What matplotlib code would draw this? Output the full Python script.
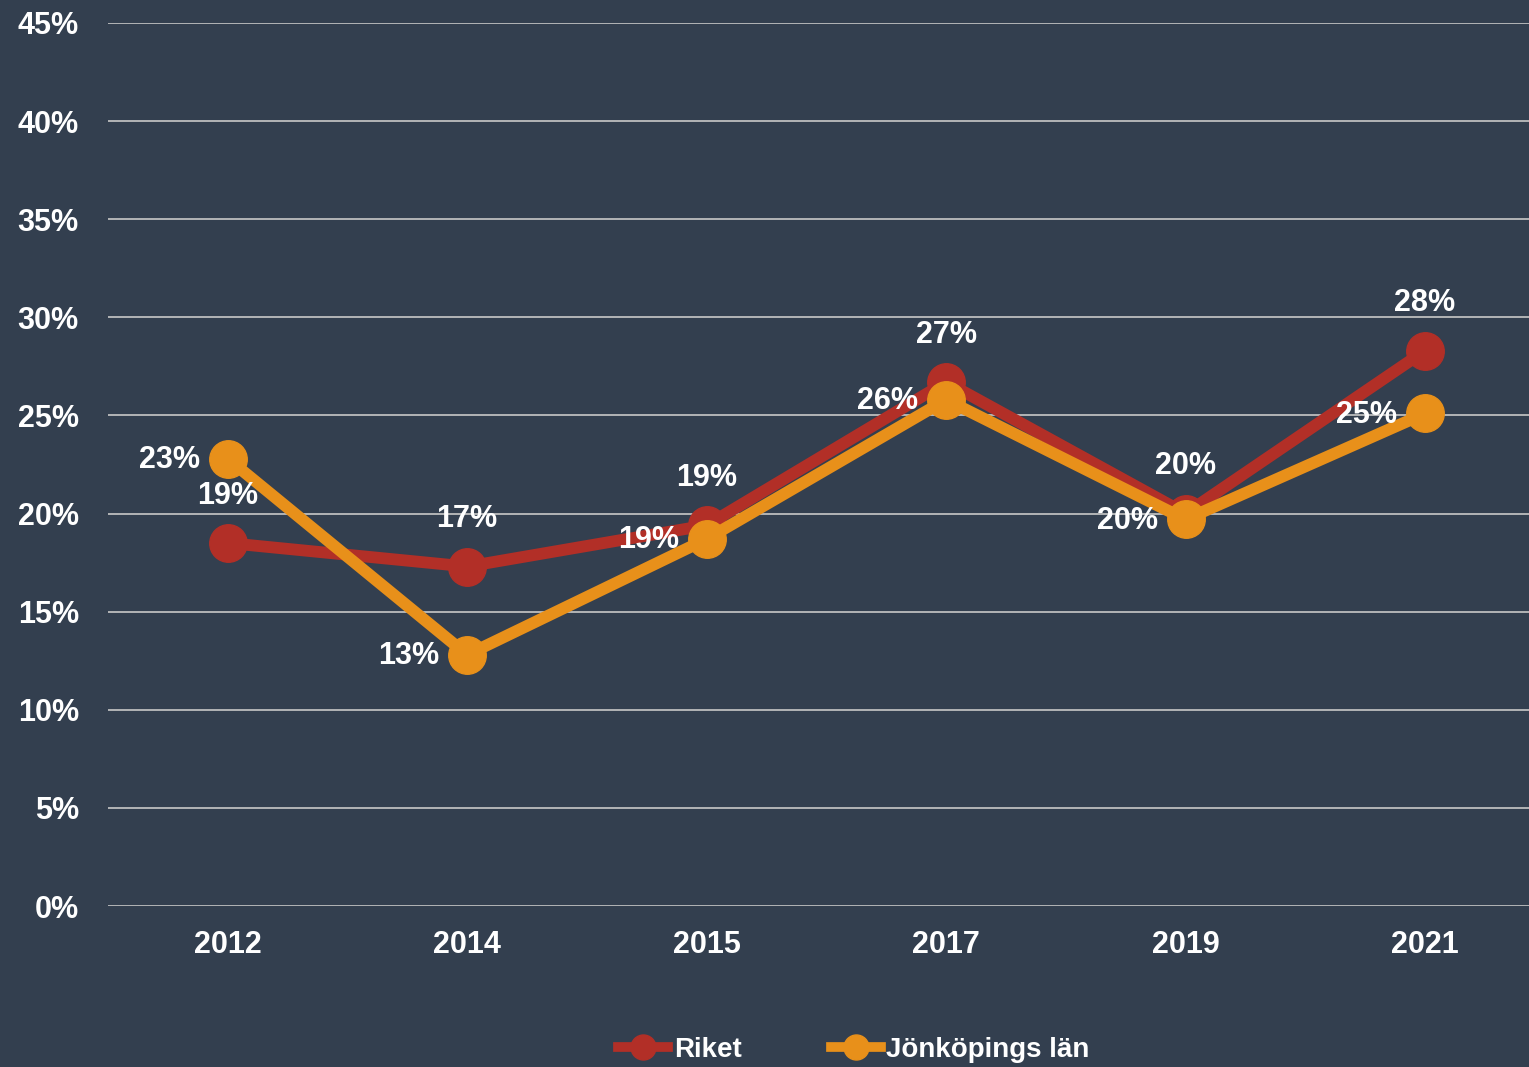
import matplotlib
matplotlib.use("Agg")
import matplotlib.pyplot as plt
from matplotlib.lines import Line2D

years = ["2012", "2014", "2015", "2017", "2019", "2021"]
riket = [18.5, 17.3, 19.4, 26.7, 20.0, 28.3]
jonkoping = [22.8, 12.8, 18.7, 25.8, 19.7, 25.1]
riket_labels = ["19%", "17%", "19%", "27%", "20%", "28%"]
jonk_labels = ["23%", "13%", "19%", "26%", "20%", "25%"]
yticks = [0, 5, 10, 15, 20, 25, 30, 35, 40, 45]

BG = "#333f4f"
RED = "#b22f27"
ORANGE = "#e8901a"
FONT = ["Liberation Sans", "DejaVu Sans"]
plt.rcParams["font.family"] = FONT

fig = plt.figure(figsize=(15.29, 10.67), dpi=100, facecolor=BG)
ax = fig.add_axes([108/1529, 161/1067, 1 - 108/1529, (906-23)/1067])
ax.set_facecolor(BG)

x = list(range(len(years)))
ax.plot(x, riket, color=RED, lw=8.5, marker="o", ms=27, zorder=3, solid_capstyle="round")
ax.plot(x, jonkoping, color=ORANGE, lw=8.5, marker="o", ms=27, zorder=4, solid_capstyle="round")

for xi, v, t in zip(x, riket, riket_labels):
    ax.annotate(t, (xi, v), xytext=(0, 34), textcoords="offset points", ha="center", va="center",
                color="white", fontsize=22, fontweight="bold", zorder=6)
for xi, v, t in zip(x, jonkoping, jonk_labels):
    ax.annotate(t, (xi, v), xytext=(-20, -1), textcoords="offset points", ha="right", va="center",
                color="white", fontsize=22, fontweight="bold", zorder=6)

ax.set_xlim(-0.5, 5 + (1529-1425)/239.5)
ax.set_ylim(0, 45)
ax.set_yticks(yticks)
ax.set_yticklabels([f"{v}%" for v in yticks])
ax.set_xticks(x)
ax.set_xticklabels(years)
ax.tick_params(axis="both", length=0, colors="white", labelsize=22)
ax.tick_params(axis="y", pad=21)
ax.tick_params(axis="x", pad=17)
for lab in ax.get_xticklabels() + ax.get_yticklabels():
    lab.set_fontweight("bold")
ax.grid(axis="y", color="#c8c8c8", lw=1.2)
ax.set_axisbelow(True)
for s in ax.spines.values():
    s.set_visible(False)

handles = [Line2D([], [], color=RED, lw=7, marker="o", ms=18),
           Line2D([], [], color=ORANGE, lw=7, marker="o", ms=18)]
leg = fig.legend(handles, ["Riket", "Jönköpings län"], loc="center", bbox_to_anchor=(0.5585, 1 - 1050/1067),
                 ncol=2, frameon=False, fontsize=20, handlelength=1.8, handletextpad=0.2, columnspacing=3.2)
for t in leg.get_texts():
    t.set_color("white")
    t.set_fontweight("bold")

fig.savefig("out.png", dpi=100, facecolor=BG)
